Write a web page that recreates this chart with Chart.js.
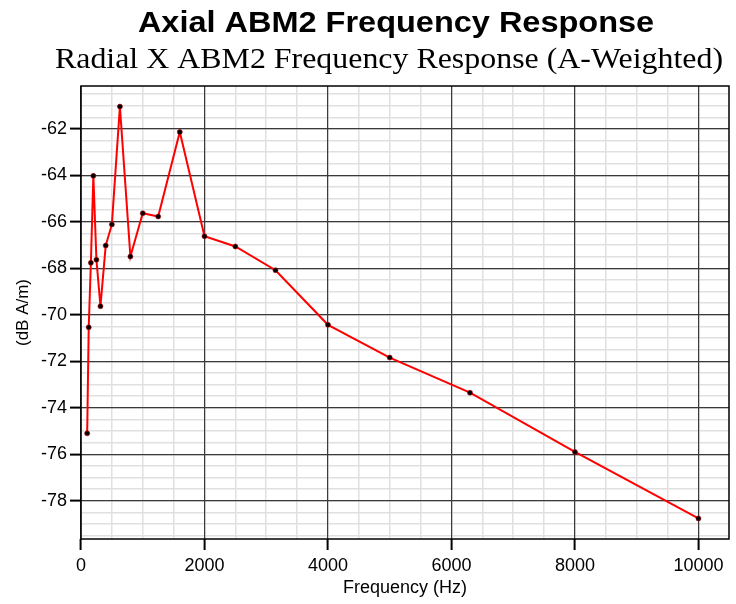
<!DOCTYPE html>
<html>
<head>
<meta charset="utf-8">
<script src="https://cdn.jsdelivr.net/npm/chart.js@4/dist/chart.umd.min.js"></script>
<style>
  html, body { margin: 0; padding: 0; background: #fff; }
  #wrap { width: 736px; height: 604px; position: relative; }
</style>
</head>
<body>
<div id="wrap"><canvas id="freq-chart" width="736" height="604"></canvas></div>
<script>
const TITLE = "Axial ABM2 Frequency Response";
const SUBTITLE = "Radial X ABM2 Frequency Response (A-Weighted)";

// third-octave band centres (Hz) and measured level (dB A/m)
const frequencies = [100, 125, 160, 200, 250, 315, 400, 500, 630, 800, 1000, 1250, 1600, 2000, 2500, 3150, 4000, 5000, 6300, 8000, 10000];
const levels = [-75.1, -70.54, -67.76, -64.02, -67.63, -69.63, -67.02, -66.11, -61.04, -67.49, -65.63, -65.77, -62.13, -66.62, -67.06, -68.08, -70.43, -71.84, -73.35, -75.9, -78.76];

const xTickLabels = [0, 2000, 4000, 6000, 8000, 10000];
const yTickLabels = [-78, -76, -74, -72, -70, -68, -66, -64, -62];
const X_MINOR_STEP = 500;
const Y_MINOR_STEP = 0.5;

const SANS = "'Liberation Sans', Arial, sans-serif";
const SERIF = "'Liberation Serif', 'Times New Roman', serif";
const MAJOR_GRID = "#3a3a3a";
const MINOR_GRID = "#e0e0e0";

// 5% padding around the data, x clamped at zero
const yLo = Math.min(...levels);
const yHi = Math.max(...levels);
const yPad = (yHi - yLo) * 0.05;
const xMax = Math.max(...frequencies) + (Math.max(...frequencies) - Math.min(...frequencies)) * 0.05;

function stepTicks(scale, step) {
  const ticks = [];
  const start = Math.ceil(scale.min / step - 1e-9) * step;
  for (let v = start; v <= scale.max + 1e-9; v += step) {
    ticks.push({ value: Math.round(v * 1000) / 1000 });
  }
  scale.ticks = ticks;
}

function listTicks(scale, list) {
  scale.ticks = list.map((value) => ({ value }));
}

// grid-only scale for the light minor lines, drawn underneath the major ones
function minorScale(axis, min, max, step) {
  return {
    type: "linear",
    axis,
    position: axis === "x" ? "bottom" : "left",
    min,
    max,
    z: -2,
    afterBuildTicks: (scale) => stepTicks(scale, step),
    afterFit: (scale) => {
      if (axis === "x") scale.height = 0;
      else scale.width = 0;
    },
    border: { display: false },
    grid: { color: MINOR_GRID, lineWidth: 1.5, drawTicks: false },
    ticks: { display: false, autoSkip: false },
  };
}

function drawHeading(ctx, text, font, cx, baseline, stretch) {
  ctx.save();
  ctx.font = font;
  ctx.translate(cx, baseline);
  ctx.scale(stretch, 1);
  ctx.fillText(text, 0, 0);
  ctx.restore();
}

const headingPlugin = {
  id: "heading",
  afterDraw(chart) {
    const ctx = chart.ctx;
    ctx.save();
    ctx.fillStyle = "#000";
    ctx.textAlign = "center";
    ctx.textBaseline = "alphabetic";
    drawHeading(ctx, TITLE, `bold 29px ${SANS}`, 396, 32, 1.12);
    drawHeading(ctx, SUBTITLE, `29px ${SERIF}`, 389, 67.5, 1.1);
    ctx.restore();
  },
};

const framePlugin = {
  id: "frame",
  afterDatasetsDraw(chart) {
    const { left, top, right, bottom } = chart.chartArea;
    const ctx = chart.ctx;
    ctx.save();
    ctx.strokeStyle = "#000";
    ctx.lineWidth = 1.5;
    ctx.strokeRect(left, top, right - left, bottom - top);
    ctx.restore();
  },
};

const points = frequencies.map((f, i) => ({ x: f, y: levels[i] }));

new Chart(document.getElementById("freq-chart").getContext("2d"), {
  type: "scatter",
  data: {
    datasets: [
      {
        data: points,
        showLine: true,
        borderColor: "#ff0000",
        borderWidth: 2,
        pointRadius: 2.5,
        pointBackgroundColor: "#000",
        pointBorderColor: "#c00000",
        pointBorderWidth: 0.6,
        tension: 0,
      },
    ],
  },
  options: {
    responsive: false,
    animation: false,
    layout: { padding: { top: 86, right: 7, bottom: 0, left: 0 } },
    plugins: {
      legend: { display: false },
      tooltip: { enabled: false },
    },
    scales: {
      xMinor: minorScale("x", 0, xMax, X_MINOR_STEP),
      yMinor: minorScale("y", yLo - yPad, yHi + yPad, Y_MINOR_STEP),
      x: {
        type: "linear",
        min: 0,
        max: xMax,
        z: -1,
        afterBuildTicks: (scale) => listTicks(scale, xTickLabels),
        afterFit: (scale) => { scale.height = 65; },
        border: { display: false },
        grid: {
          color: MAJOR_GRID,
          lineWidth: 1.2,
          tickColor: "#000",
          tickLength: 11,
          tickWidth: 2,
        },
        ticks: {
          autoSkip: false,
          maxRotation: 0,
          padding: 5,
          color: "#000",
          font: { family: SANS, size: 18 },
          callback: (value) => String(value),
        },
        title: {
          display: true,
          text: "Frequency (Hz)",
          color: "#000",
          font: { family: SANS, size: 18 },
          padding: { top: 0, bottom: 5 },
        },
      },
      y: {
        type: "linear",
        min: yLo - yPad,
        max: yHi + yPad,
        z: -1,
        afterBuildTicks: (scale) => listTicks(scale, yTickLabels),
        afterFit: (scale) => { scale.width = 81; },
        border: { display: false },
        grid: {
          color: MAJOR_GRID,
          lineWidth: 1.2,
          tickColor: "#000",
          tickLength: 11,
          tickWidth: 2,
        },
        ticks: {
          autoSkip: false,
          padding: 3,
          color: "#000",
          font: { family: SANS, size: 18 },
          callback: (value) => String(value),
        },
        title: {
          display: true,
          text: "(dB A/m)",
          color: "#000",
          font: { family: SANS, size: 17 },
          padding: { top: 13, bottom: 0 },
        },
      },
    },
  },
  plugins: [headingPlugin, framePlugin],
});
</script>
</body>
</html>
